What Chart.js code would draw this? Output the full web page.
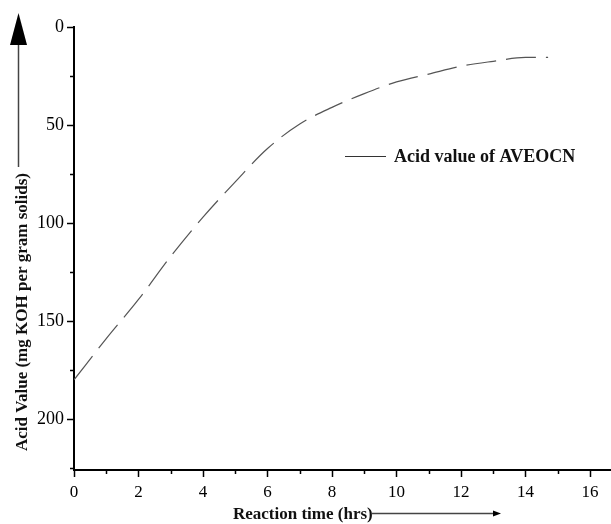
<!DOCTYPE html>
<html>
<head>
<meta charset="utf-8">
<script src="https://cdn.jsdelivr.net/npm/chart.js@4/dist/chart.umd.min.js"></script>
<style>
  html, body { margin: 0; padding: 0; background: #fff; }
  canvas { display: block; }
</style>
</head>
<body>
<canvas id="acidChart" width="611" height="524"></canvas>
<script>
// Data
const hours = [0, 1, 2, 3, 4, 5, 6, 7, 8, 9, 10, 11, 12, 13, 14, 14.7];
const acidValue = [180, 159, 139, 117, 97, 79, 62, 49.5, 41, 34, 28, 24, 20, 17.5, 15.5, 15.5];
const xTicks = [0, 1, 2, 3, 4, 5, 6, 7, 8, 9, 10, 11, 12, 13, 14, 15, 16];
const yTicks = [0, 25, 50, 75, 100, 125, 150, 175, 200, 225];

const seriesLabel = 'Acid value of AVEOCN';
const xTitle = 'Reaction time (hrs)';
const yTitle = 'Acid Value (mg KOH per gram solids)';

const serif = '"Liberation Serif", "Times New Roman", serif';

const isMajorX = v => v % 2 === 0;
const isMajorY = v => v % 50 === 0;

// Titles, arrows, legend and the short minor ticks
const decorations = {
    id: 'decorations',
    afterDraw(chart) {
        const ctx = chart.ctx;
        const xs = chart.scales.x;
        const ys = chart.scales.y;
        ctx.save();

        // minor ticks (shorter than the labelled ones)
        ctx.strokeStyle = '#000';
        ctx.lineWidth = 1.5;
        ctx.beginPath();
        xTicks.filter(v => !isMajorX(v)).forEach(v => {
            const px = Math.round(xs.getPixelForValue(v)) + 0.5;
            ctx.moveTo(px, ys.bottom);
            ctx.lineTo(px, ys.bottom + 4);
        });
        yTicks.filter(v => !isMajorY(v)).forEach(v => {
            const py = Math.round(ys.getPixelForValue(v)) + 0.5;
            ctx.moveTo(xs.left, py);
            ctx.lineTo(xs.left - 4, py);
        });
        ctx.stroke();

        // y title + arrow
        ctx.fillStyle = '#111';
        ctx.strokeStyle = '#444';
        ctx.save();
        ctx.translate(23, 312);
        ctx.rotate(-Math.PI / 2);
        ctx.font = 'bold 17px ' + serif;
        ctx.textAlign = 'center';
        ctx.textBaseline = 'middle';
        ctx.fillText(yTitle, 0, 0);
        ctx.restore();

        ctx.lineWidth = 1.5;
        ctx.beginPath();
        ctx.moveTo(18.5, 167);
        ctx.lineTo(18.5, 40);
        ctx.stroke();
        ctx.fillStyle = '#000';
        ctx.beginPath();
        ctx.moveTo(18.5, 13);
        ctx.lineTo(27, 45);
        ctx.lineTo(10, 45);
        ctx.closePath();
        ctx.fill();

        // x title + arrow
        ctx.fillStyle = '#111';
        ctx.font = 'bold 17px ' + serif;
        ctx.textAlign = 'left';
        ctx.textBaseline = 'middle';
        ctx.fillText(xTitle, 233, 515);
        ctx.lineWidth = 1.5;
        ctx.beginPath();
        ctx.moveTo(372, 513.5);
        ctx.lineTo(495, 513.5);
        ctx.stroke();
        ctx.fillStyle = '#000';
        ctx.beginPath();
        ctx.moveTo(501, 513.5);
        ctx.lineTo(493, 510.5);
        ctx.lineTo(493, 516.5);
        ctx.closePath();
        ctx.fill();

        // legend
        ctx.strokeStyle = '#333';
        ctx.lineWidth = 1;
        ctx.beginPath();
        ctx.moveTo(345, 156.5);
        ctx.lineTo(386, 156.5);
        ctx.stroke();
        ctx.fillStyle = '#111';
        ctx.font = 'bold 18px ' + serif;
        ctx.textBaseline = 'middle';
        ctx.fillText(seriesLabel, 394, 157);

        ctx.restore();
    }
};

const ctx = document.getElementById('acidChart').getContext('2d');
const acidChart = new Chart(ctx, {
    type: 'line',
    data: {
        datasets: [{
            label: seriesLabel,
            data: hours.map((h, i) => ({ x: h, y: acidValue[i] })),
            borderColor: '#555',
            borderWidth: 1.2,
            borderDash: [30, 10],
            cubicInterpolationMode: 'monotone',
            pointRadius: 0,
            fill: false
        }]
    },
    options: {
        responsive: false,
        animation: false,
        layout: { padding: { top: 27, right: 0, bottom: 0, left: 0 } },
        plugins: {
            legend: { display: false },
            tooltip: { enabled: false }
        },
        scales: {
            x: {
                type: 'linear',
                min: 0,
                max: 16.65,
                afterBuildTicks: s => { s.ticks = xTicks.map(v => ({ value: v })); },
                afterFit: s => { s.height = 54; },
                border: { color: '#000', width: 2 },
                grid: {
                    drawOnChartArea: false, drawTicks: true, tickLength: 7, tickWidth: 1.5,
                    tickColor: c => (c.tick && isMajorX(c.tick.value) ? '#000' : 'rgba(0,0,0,0)')
                },
                ticks: {
                    color: '#000',
                    padding: 5,
                    maxRotation: 0,
                    autoSkip: false,
                    font: { family: serif, size: 17 },
                    callback: v => (isMajorX(v) ? v : '')
                }
            },
            y: {
                type: 'linear',
                reverse: true,
                min: 0,
                max: 226,
                afterBuildTicks: s => { s.ticks = yTicks.map(v => ({ value: v })); },
                afterFit: s => { s.width = 74; },
                border: { color: '#000', width: 2 },
                grid: {
                    drawOnChartArea: false, drawTicks: true, tickLength: 7, tickWidth: 1.5,
                    tickColor: c => (c.tick && isMajorY(c.tick.value) ? '#000' : 'rgba(0,0,0,0)')
                },
                ticks: {
                    color: '#000',
                    padding: 3,
                    autoSkip: false,
                    font: { family: serif, size: 18 },
                    callback: v => (isMajorY(v) ? v : '')
                }
            }
        }
    },
    plugins: [decorations]
});
</script>
</body>
</html>
